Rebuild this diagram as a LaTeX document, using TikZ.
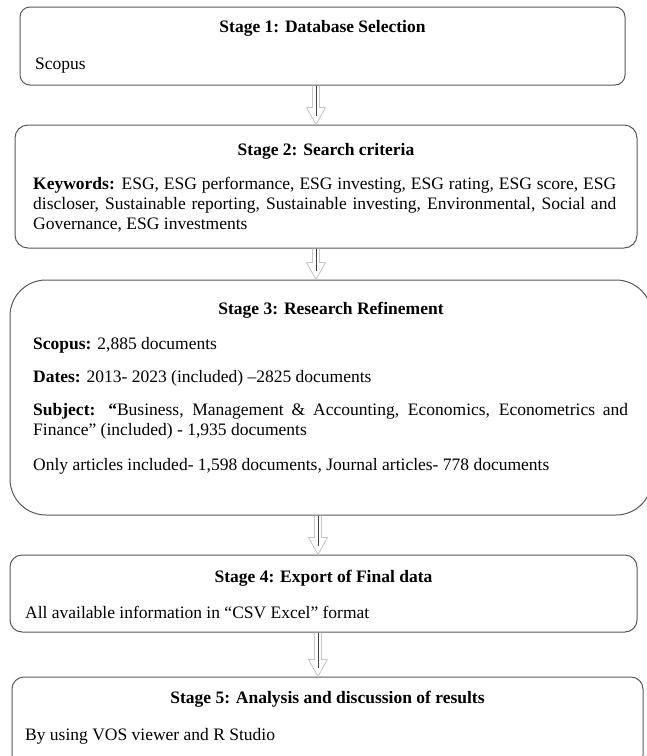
\documentclass[tikz,border=0pt]{standalone}
\usepackage{fontspec}
\setmainfont{Liberation Serif}
\usetikzlibrary{calc,positioning}

\newcommand\stagefont{\fontsize{17.5}{19.8}\selectfont\hyphenpenalty=10000\exhyphenpenalty=10000}

\tikzset{
  stagebox/.style={draw=black!65, line width=1pt, rounded corners=#1, fill=white},
  stagetitle/.style={inner sep=0pt, font=\stagefont\bfseries},
  stagetext/.style={inner sep=0pt, anchor=west, align=left, font=\stagefont},
  stagepar/.style={inner sep=0pt, anchor=north west, text width=#1, align=justify, font=\stagefont},
  hollowarrow/.style={draw=black!22, line width=0.9pt,
    to path={($(\tikztostart)+(-3.5,0)$) -- ($(\tikztotarget)+(-3.5,-17)$) -- ($(\tikztotarget)+(-9.5,-17)$)
      -- (\tikztotarget) -- ($(\tikztotarget)+(9.5,-17)$) -- ($(\tikztotarget)+(3.5,-17)$) -- ($(\tikztostart)+(3.5,0)$)}},
  arrowcore/.style={draw=black!75, line width=0.7pt}
}

\begin{document}
\begin{tikzpicture}[x=1pt,y=-1pt]
\useasboundingbox (0,0) rectangle (647,756);

%The stages:
\node[stagebox=10pt, minimum width=605pt, minimum height=78pt] (s1) at (322.5,46) {};
\node[stagebox=13pt, minimum width=622pt, minimum height=123pt] (s2) at (326,186.5) {};
\node[stagebox=36pt, minimum width=642pt, minimum height=235pt] (s3) at (331,397.5) {};
\node[stagebox=12pt, minimum width=627pt, minimum height=77pt] (s4) at (323.5,593.5) {};
\node[stagebox=12pt, minimum width=631pt, minimum height=90pt] (s5) at (327.5,722) {};

%Stage 1
\node[stagetitle, below=14pt of s1.north] (t1) {Stage 1: Database Selection};
\node[stagetext] (b1) at (35,66) {Scopus};

%Stage 2
\node[stagetitle, below=19pt of s2.north] (t2) {Stage 2: Search criteria};
\node[stagepar=583pt] (b2) at (33,177) {\textbf{Keywords:} ESG, ESG performance, ESG investing, ESG rating, ESG score, ESG discloser, Sustainable reporting, Sustainable investing, Environmental, Social and Governance, ESG investments};

%Stage 3
\node[stagetitle, below=22pt of s3.north] (t3) {Stage 3: Research Refinement};
\node[stagetext] (b3a) at (33,345) {\textbf{Scopus:} 2,885 documents};
\node[stagetext] (b3b) at (33,378) {\textbf{Dates:} 2013- 2023 (included) –2825 documents};
\node[stagepar=595pt] (b3c) at (33,403) {\textbf{Subject: “}Business, Management \& Accounting, Economics, Econometrics and Finance” (included) - 1,935 documents};
\node[stagetext] (b3d) at (33,466) {Only articles included- 1,598 documents, Journal articles- 778 documents};

%Stage 4
\node[stagetitle, below=15pt of s4.north] (t4) {Stage 4: Export of Final data};
\node[stagetext] (b4) at (25,612) {All available information in “CSV Excel” format};

%Stage 5
\node[stagetitle, below=14pt of s5.north] (t5) {Stage 5: Analysis and discussion of results};
\node[stagetext] (b5) at (25,736) {By using VOS viewer and R Studio};

%The arrows:
\foreach \a/\b/\x in {s1/s2/316, s2/s3/316, s3/s4/318, s4/s5/318}{
  \draw[hollowarrow] (\a.south -| \x,0) to (\b.north -| \x,0);
  \draw[arrowcore] (\a.south -| \x,0) -- ($(\b.north -| \x,0)+(0,-9)$);
}
\end{tikzpicture}
\end{document}
